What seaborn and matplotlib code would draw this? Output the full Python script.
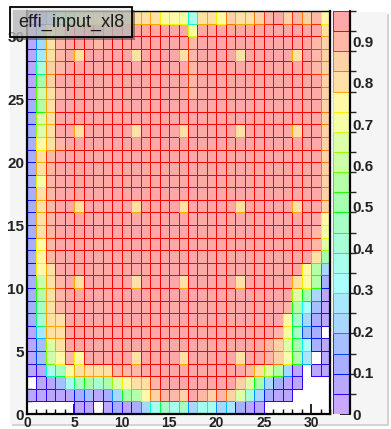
import colorsys
import numpy as np
import pandas as pd
import matplotlib
matplotlib.use("Agg")
import matplotlib.pyplot as plt
from matplotlib.patches import Rectangle
from matplotlib.colors import ListedColormap, BoundaryNorm
from matplotlib.ticker import MultipleLocator, FixedLocator
import seaborn as sns

# ---------------- data ----------------
title = "effi_input_xl8"
n_x_bins = 32
n_y_bins = 32
z_max = 0.973          # top of the colour scale (histogram maximum)
n_contours = 20

# efficiency for each colour-band code seen in the picture (band 0 ... band 19)
band_codes = "0123456789ABCDEFGHIJ"
band_values = [0.02, 0.07, 0.12, 0.17, 0.22, 0.27, 0.32, 0.37, 0.41, 0.46,
               0.51, 0.56, 0.61, 0.66, 0.71, 0.75, 0.80, 0.85, 0.90, 0.95]

# cell bands, top row (y = 31) first, x = 0..31 left to right, '.' = empty bin
rows_top_to_bottom = [
    "1248BDEF GFGGGGFF E7GGFHGG HIJHIHIF",  # y=31
    "13FGIJJJ IJJJJJJJ JEJJJJJJ JJJJJJJG",  # y=30
    "14GIJJJI JJJJJJJJ JIJJJJJJ JJJJJJIH",  # y=29
    "15GIJGJJ JJJGJJJJ GIJJJJGJ JJJJGJIH",  # y=28
    "18HIJJJJ JJJJJJJJ JIJJJJJJ JJJJJJIH",  # y=27
    "1AHJJJJJ JJJJJJJJ JIJJJJJJ JJJJJJJH",  # y=26
    "1CGIJJJJ JJJJJJJJ JIJJJJJJ JJJJJJJH",  # y=25
    "2BGJJJJJ JJJJJJJJ JJJJJJJJ JJJJJJJH",  # y=24
    "2DGJJJJJ JJJJJJJJ JJJJJJJJ JJJJJJJH",  # y=23
    "2DGJJGJJ JJJGJJJJ GJJJJJGJ JJJJGJJH",  # y=22
    "2FGIJJJJ JJJJJJJJ JJJJJJJJ JJJJJJJH",  # y=21
    "2GIJJJJJ JJJJJJJJ JJJJJJJJ JJJJJJJH",  # y=20
    "2GIJJJJJ JJJJJJJJ JJJJJJJJ JJJJJJJH",  # y=19
    "2EIJJJJJ JJJJJJJJ JJJJJJJJ JJJJJJJH",  # y=18
    "2GIJJJJJ JJJJJJJJ JJJJJJJJ JJJJJJJH",  # y=17
    "2GIJJGJJ JJJGJJJJ GJJJJJGJ JJJJGJJH",  # y=16
    "2GIJJJJJ JJJJJJJJ JJJJJJJJ JJJJJJJF",  # y=15
    "2GIJJJJJ JJJJJJJJ JJJJJJJJ JJJJJJIE",  # y=14
    "2FIJJJJJ JJJJJJJJ JJJJJJJJ JJJJJJID",  # y=13
    "2FIJJJJJ JJJJJJJJ JJJJJJJJ JJJJJJGA",  # y=12
    "2FGJJJJJ JJJJJJJJ JJJJJJJJ JJJJJFB4",  # y=11
    "2CGIJGJJ JJJGJJJJ GJJJJJGJ JJJJGFB2",  # y=10
    "2BGIJJJJ JJJJJJJJ JJJJJJJJ JJJJDA41",  # y=9
    "29GIJJJJ JJJJJJJJ JJJJJJJJ JJJIB631",  # y=8
    "28GGJJJJ JJJJJJJJ JJJJJJJJ JJJF9421",  # y=7
    "15GGJJJJ JJJJJJJJ JJJJJJJJ JJIE932.",  # y=6
    "13DGJJJJ JJJJJJJJ JJJJJJJJ JIHDA621",  # y=5
    "13CFIFJJ JJJGJJJJ GJJJJJGJ JIHEB5.1",  # y=4
    "1179FGGG GIIIJJJJ JJJJJJJI GDB41.11",  # y=3
    ".11379A8 ADFGGIJJ JJJJJJHD A4211...",  # y=2
    "11111231 24ABFHII HJIHIHD8 4211....",  # y=1
    ".....11. 12124797 94774521 1.......",  # y=0
]

x_ticks = [0, 5, 10, 15, 20, 25, 30]
y_ticks = [0, 5, 10, 15, 20, 25, 30]
z_ticks = [0, 0.1, 0.2, 0.3, 0.4, 0.5, 0.6, 0.7, 0.8, 0.9]
z_tick_labels = ["0", "0.1", "0.2", "0.3", "0.4", "0.5", "0.6", "0.7", "0.8", "0.9"]

# ---------------- build table ----------------
value_of = dict(zip(band_codes, band_values))
grid = []
for row in rows_top_to_bottom[::-1]:          # bottom row (y=0) first
    cells = row.replace(" ", "")
    assert len(cells) == n_x_bins, (row, len(cells))
    grid.append([value_of.get(ch, np.nan) for ch in cells])
eff = pd.DataFrame(grid, index=range(n_y_bins), columns=range(n_x_bins))

# ---------------- ROOT "pretty" palette (50 colours, purple -> red) ----------------
def root_pretty_palette(n=50):
    cols = []
    for i in range(n):
        hue = 280.0 - (i + 1) * (280.0 / n)
        cols.append(colorsys.hls_to_rgb(hue / 360.0, 0.5, 1.0))
    return cols

pal = root_pretty_palette()
line_colors = [pal[int((k + 0.99) * len(pal) / n_contours)] for k in range(n_contours)]
fill_alpha = 0.34
fill_colors = [tuple(1 - fill_alpha * (1 - c) for c in rgb) for rgb in line_colors]
levels = np.linspace(0.0, z_max, n_contours + 1)
cmap = ListedColormap(fill_colors)
norm = BoundaryNorm(levels, ncolors=n_contours)

# ---------------- figure ----------------
sns.set_theme(style="white")
plt.rcParams["font.family"] = ["Liberation Sans", "DejaVu Sans"]

W, H = 391, 429
fig = plt.figure(figsize=(W / 100, H / 100), dpi=100)
fig.patch.set_facecolor("white")

# light grey pad with a soft right/bottom edge (drawn beneath the axes)
fig.add_artist(Rectangle((12 / W, 1 - 426 / H), 377 / W, 412 / H, transform=fig.transFigure,
                         facecolor="#d4d4d4", edgecolor="none", zorder=-3))
fig.add_artist(Rectangle((10 / W, 1 - 424 / H), 377 / W, 412 / H, transform=fig.transFigure,
                         facecolor="#f5f5f5", edgecolor="none", zorder=-2))

ax = fig.add_axes([27 / W, 15 / H, 303 / W, 403 / H])
cax = fig.add_axes([333 / W, 15 / H, 17 / W, 403 / H])

sns.heatmap(eff, ax=ax, cmap=cmap, norm=norm, mask=eff.isna(), cbar=True,
            cbar_ax=cax, linewidths=0.5, linecolor="none",
            xticklabels=False, yticklabels=False)
ax.set_xlim(0, n_x_bins)
ax.set_ylim(0, n_y_bins)
ax.set_facecolor("white")
cax.set_facecolor("white")

# per-cell saturated outline colour
mesh = ax.collections[0]
vals = eff.values
band_idx = np.clip(np.digitize(np.nan_to_num(vals, nan=0.0), levels[1:-1]), 0, n_contours - 1)
edge = np.array([(*line_colors[b], 1.0) for b in band_idx.ravel()])
edge[np.isnan(vals.ravel()), 3] = 0.0
mesh.set_edgecolor(edge)
mesh.set_linewidth(0.5)

for s in ax.spines.values():
    s.set_visible(True)
    s.set_color("black")
    s.set_linewidth(1.6)
    s.set_zorder(10)
ax.spines["top"].set_linewidth(1.0)

ax.xaxis.set_major_locator(FixedLocator(x_ticks))
ax.yaxis.set_major_locator(FixedLocator(y_ticks))
ax.xaxis.set_minor_locator(MultipleLocator(1))
ax.yaxis.set_minor_locator(MultipleLocator(1))
ax.set_xticklabels([str(t) for t in x_ticks])
ax.set_yticklabels([str(t) for t in y_ticks])
ax.tick_params(which="major", direction="in", length=7, width=1.2, color="black",
               bottom=True, left=True, top=False, right=False,
               labelsize=11, labelcolor="#222222", pad=2)
ax.tick_params(which="minor", direction="in", length=3.5, width=1.0, color="black",
               bottom=True, left=True, top=False, right=False)
ax.tick_params(axis="x", labelsize=10, pad=1.5)
for lab in ax.get_xticklabels() + ax.get_yticklabels():
    lab.set_fontweight("bold")
ax.set_xlabel("")
ax.set_ylabel("")

# colour bar
cb = mesh.colorbar
cb.solids.set_edgecolor([(*c, 1.0) for c in line_colors])
cb.solids.set_linewidth(0.5)
cb.outline.set_visible(False)
cb.set_ticks(z_ticks)
cb.set_ticklabels(z_tick_labels)
cax.tick_params(direction="in", length=7, width=1.2, color="black", right=True,
                left=False, labelsize=11, labelcolor="#222222", pad=2)
for lab in cax.get_yticklabels():
    lab.set_fontweight("bold")
cax.plot([1, 1], [0, z_max], color="black", lw=1.6, clip_on=False, zorder=10)

# title box with shadow
fig.add_artist(Rectangle((13 / W, 1 - 40 / H), 122 / W, 30 / H, transform=fig.transFigure,
                         facecolor=(0.25, 0.25, 0.25, 0.55), edgecolor="none", zorder=20))
fig.add_artist(Rectangle((10 / W, 1 - 37 / H), 122 / W, 30 / H, transform=fig.transFigure,
                         facecolor=(0.9, 0.9, 0.9, 0.6), edgecolor="black", lw=1.3, zorder=21))
fig.text(71 / W, 1 - 22 / H, title, ha="center", va="center", fontsize=13,
         color="#1a1a1a", zorder=22)

fig.savefig("out.png", dpi=100)
